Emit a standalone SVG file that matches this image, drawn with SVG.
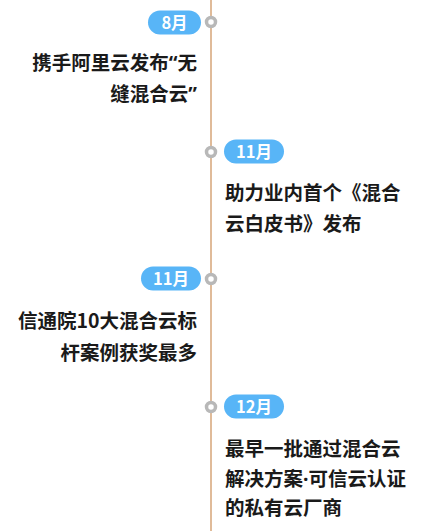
<svg xmlns="http://www.w3.org/2000/svg" width="427" height="531" viewBox="0 0 427 531">
<style>
.pill{fill:#58b5f7}
.pt{fill:#fff;font-family:"Noto Sans CJK SC","Noto Sans",sans-serif;font-weight:bold;font-size:16.5px;text-anchor:middle}
.dot{fill:#fff;stroke:#b8b8b8;stroke-width:3.5}
.t{fill:#1a1a1a;font-family:"Noto Sans CJK SC","Noto Sans",sans-serif;font-weight:bold;font-size:19.5px}
.l{text-anchor:end}
.w{font-family:"Noto Sans","Liberation Sans",sans-serif}
</style>
<rect width="427" height="531" fill="#fff"/>
<g id="connectors">
<line x1="211" y1="0" x2="211" y2="531" stroke="#d6a477" stroke-width="1.5"/>
</g>
<g id="n1">
<rect class="pill" x="148" y="10.5" width="53" height="24" rx="12"/>
<text class="pt" x="174.5" y="28.5">8月</text>
<circle class="dot" cx="211" cy="22" r="4.5"/>
<text class="t l" x="197" y="70">携手阿里云发布<tspan class="w">“</tspan>无</text>
<text class="t l" x="197" y="101">缝混合云<tspan class="w">”</tspan></text>
</g>
<g id="n2">
<rect class="pill" x="224" y="139.5" width="60" height="24" rx="12"/>
<text class="pt" x="254" y="157.5">11月</text>
<circle class="dot" cx="211" cy="152" r="4.5"/>
<text class="t" x="225" y="200">助力业内首个《混合</text>
<text class="t" x="225" y="231">云白皮书》发布</text>
</g>
<g id="n3">
<rect class="pill" x="141" y="266.5" width="60" height="24" rx="12"/>
<text class="pt" x="171" y="284.5">11月</text>
<circle class="dot" cx="211" cy="279" r="4.5"/>
<text class="t l" x="197" y="328">信通院10大混合云标</text>
<text class="t l" x="197" y="360">杆案例获奖最多</text>
</g>
<g id="n4">
<rect class="pill" x="224" y="394.5" width="60" height="24" rx="12"/>
<text class="pt" x="254" y="412.5">12月</text>
<circle class="dot" cx="211" cy="407" r="4.5"/>
<text class="t" x="225" y="456">最早一批通过混合云</text>
<text class="t" x="225" y="486">解决方案<tspan class="w">·</tspan>可信云认证</text>
<text class="t" x="225" y="515">的私有云厂商</text>
</g>
</svg>
